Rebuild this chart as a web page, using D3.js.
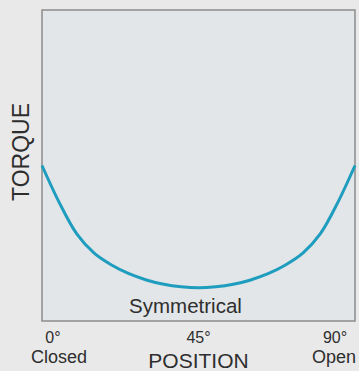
<!DOCTYPE html>
<html>
<head>
<meta charset="utf-8">
<script src="https://cdn.jsdelivr.net/npm/d3@7"></script>
<style>
  html, body { margin: 0; padding: 0; background: #e9e9e9; }
  svg { display: block; }
  text { font-family: "Liberation Sans", Arial, sans-serif; fill: #2e2e2e; }
</style>
</head>
<body>
<svg width="359" height="371"></svg>
<script>
// valve position in degrees and relative torque
const positions = [0, 5, 10, 15, 20, 25, 30, 35, 40, 45, 50, 55, 60, 65, 70, 75, 80, 85, 90];
const torque = [50, 38, 28, 21.8, 18, 15.2, 13.2, 11.8, 11, 10.7, 11, 11.8, 13.2, 15.2, 18, 21.8, 28, 38, 50];

const tickDegrees = [0, 45, 90];
const tickNames = ["Closed", "", "Open"];

const svg = d3.select("svg");
const margin = {left: 42, top: 10, right: 4, bottom: 50};
const width = 359 - margin.left - margin.right,
      height = 371 - margin.top - margin.bottom;

const x = d3.scaleLinear().domain([0, 90]).range([0, width]);
const y = d3.scaleLinear().domain([0, 100]).range([height, 0]);

const g = svg.append("g").attr("transform", `translate(${margin.left},${margin.top})`);

// plot box
g.append("rect")
  .attr("width", width)
  .attr("height", height)
  .attr("fill", "#e3e6e8")
  .attr("stroke", "#8c8c8c")
  .attr("stroke-width", 1.5);

const line = d3.line()
  .x((d, i) => x(positions[i]))
  .y(d => y(d))
  .curve(d3.curveCatmullRom);

g.append("path")
  .datum(torque)
  .attr("fill", "none")
  .attr("stroke", "#1e9dbf")
  .attr("stroke-width", 3)
  .attr("d", line);

g.append("text")
  .attr("x", x(45) - 13)
  .attr("y", height - 8)
  .attr("text-anchor", "middle")
  .attr("font-size", 20.5)
  .text("Symmetrical");

// x ticks: degree + label below
const ticks = g.append("g").attr("transform", `translate(0,${height})`);
ticks.selectAll(".deg")
  .data(tickDegrees)
  .join("text")
  .attr("class", "deg")
  .attr("x", d => x(d) + (d === 0 ? 11 : d === 90 ? -20 : 0))
  .attr("y", 22)
  .attr("text-anchor", "middle")
  .attr("font-size", 16)
  .text(d => d + "\u00b0");

ticks.selectAll(".name")
  .data(tickNames)
  .join("text")
  .attr("class", "name")
  .attr("x", (d, i) => x(tickDegrees[i]) + (i === 0 ? -11 : -43))
  .attr("y", 42)
  .attr("font-size", 18)
  .text(d => d);

ticks.append("text")
  .attr("x", x(45))
  .attr("y", 47)
  .attr("text-anchor", "middle")
  .attr("font-size", 21)
  .text("POSITION");

svg.append("text")
  .attr("transform", "translate(29,152) rotate(-90)")
  .attr("text-anchor", "middle")
  .attr("font-size", 23)
  .text("TORQUE");
</script>
</body>
</html>
